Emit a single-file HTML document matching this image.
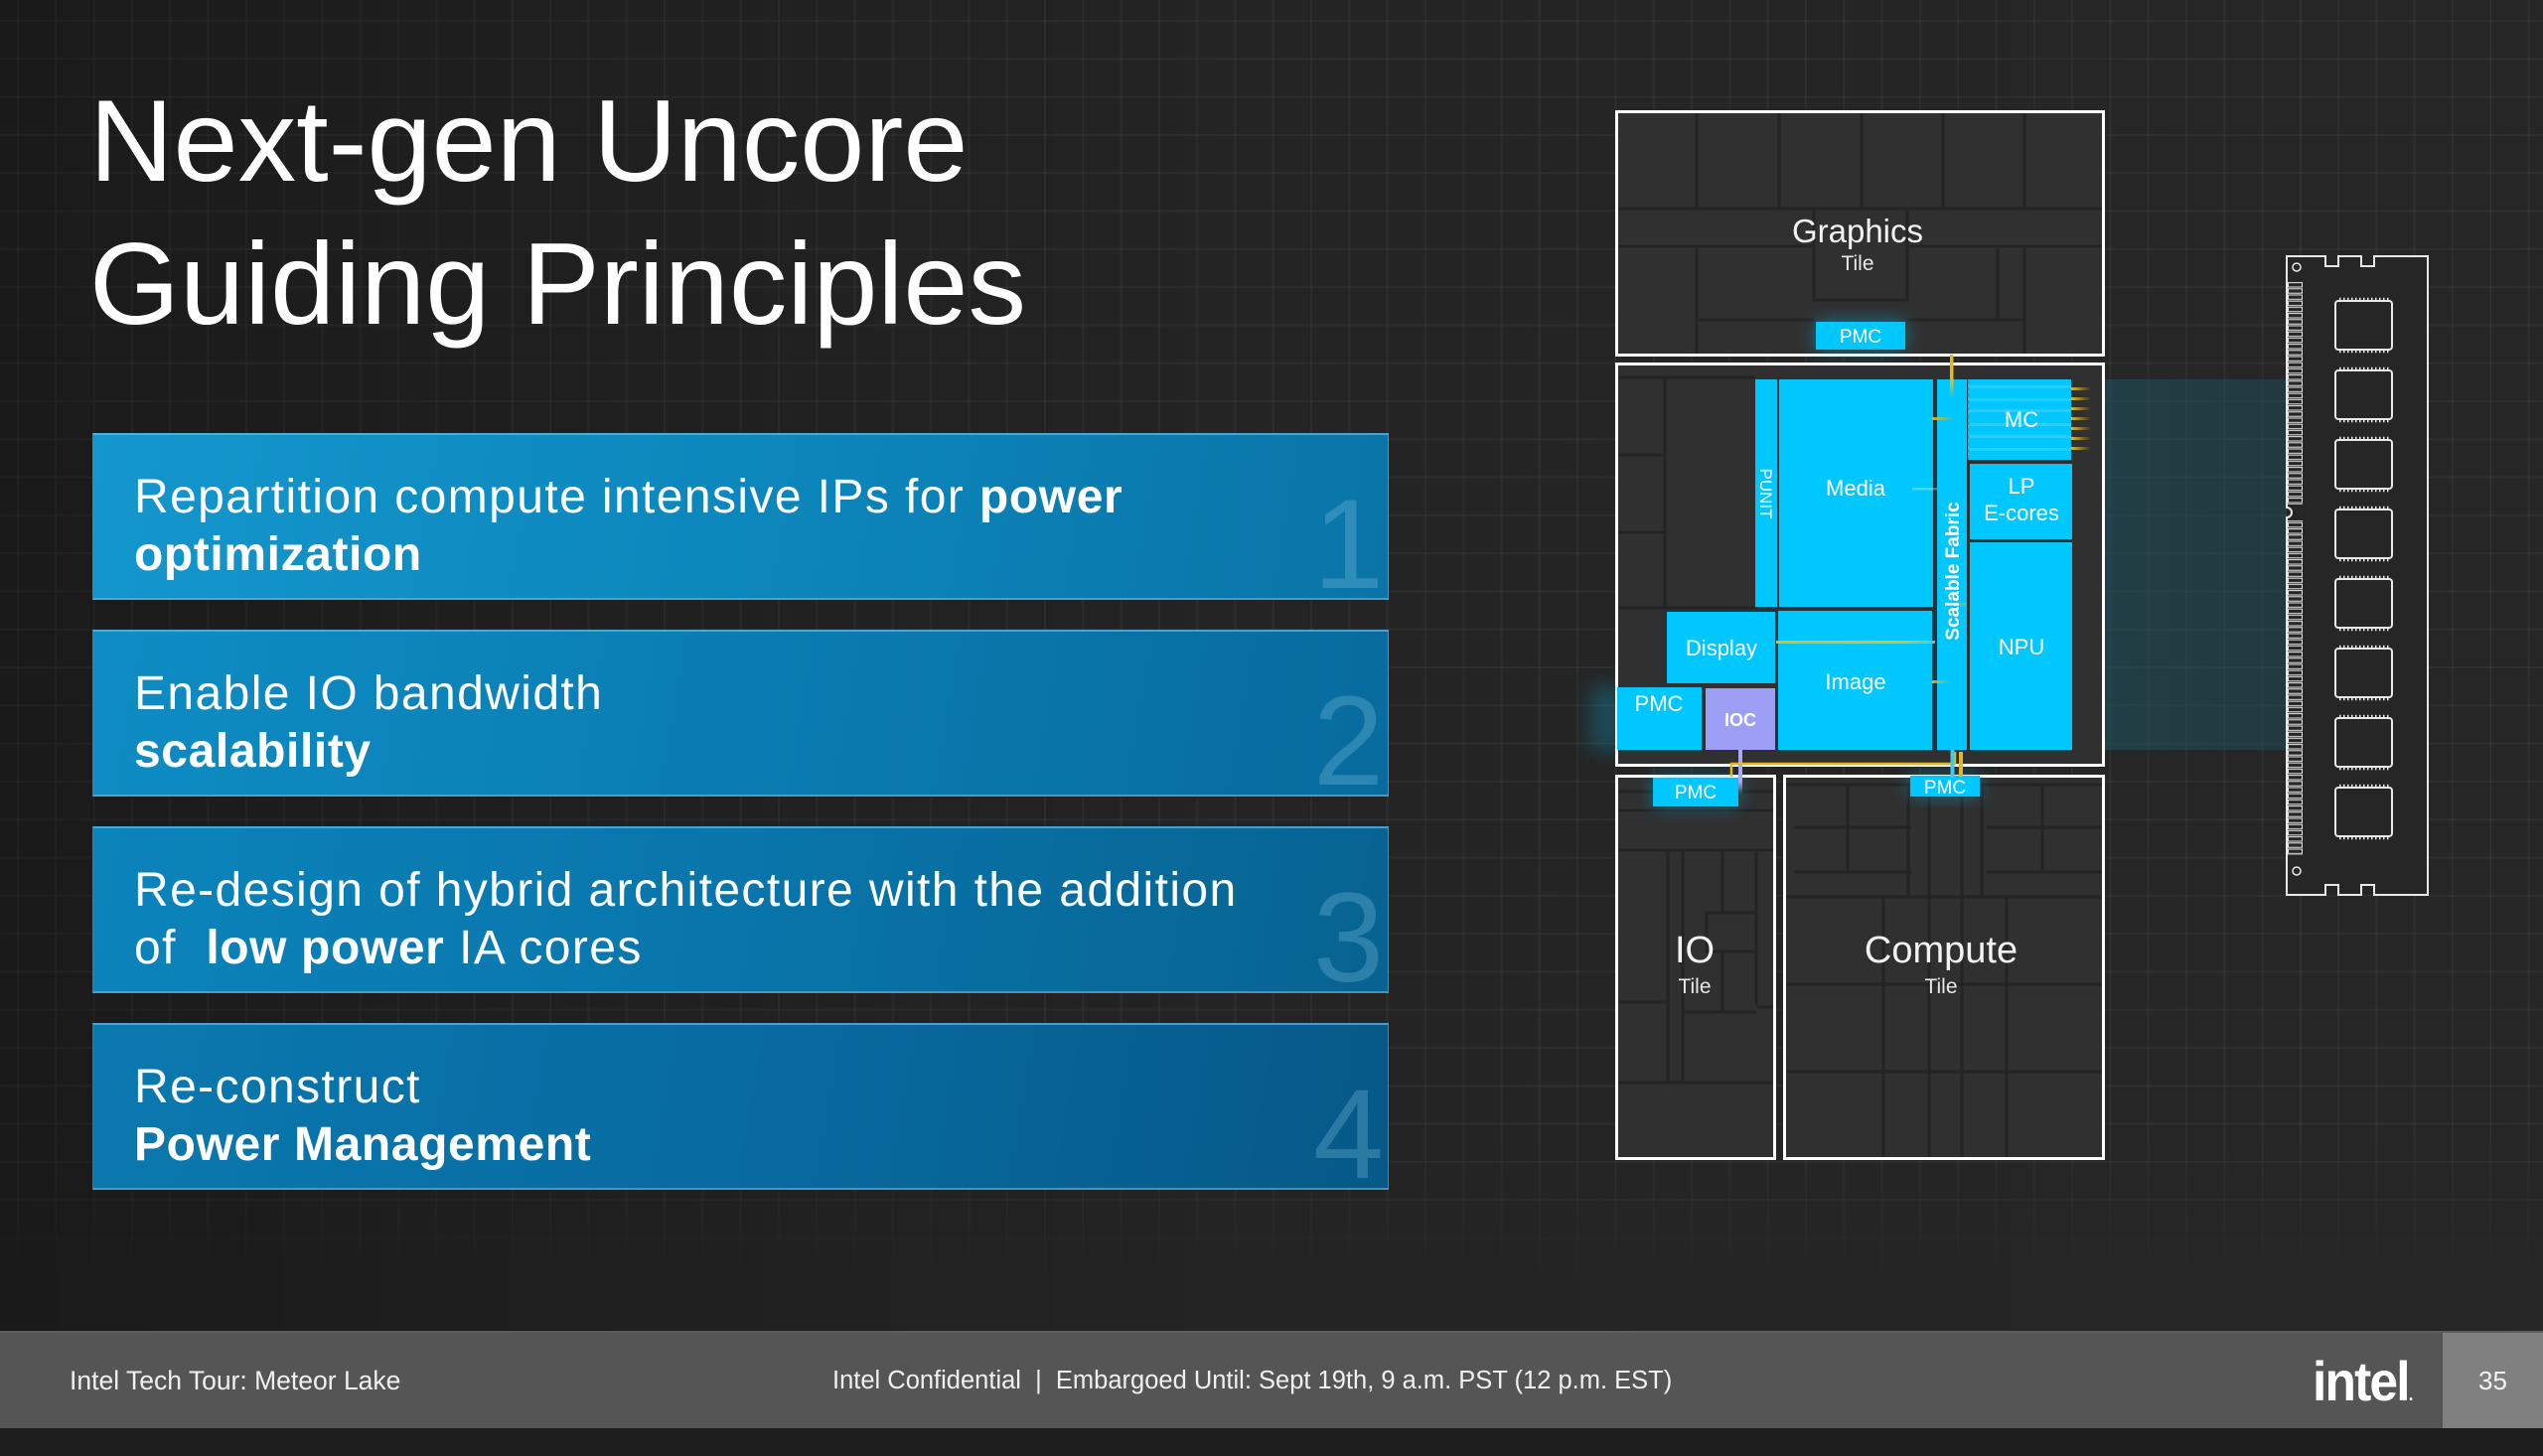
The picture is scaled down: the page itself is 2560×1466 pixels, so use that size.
<!DOCTYPE html>
<html>
<head>
<meta charset="utf-8">
<style>
  html,body{margin:0;padding:0;}
  body{width:2560px;height:1466px;overflow:hidden;background:#232323;font-family:"Liberation Sans",Arial,sans-serif;}
  #page{position:relative;width:2560px;height:1466px;overflow:hidden;background:#242424;}
  .grid{position:absolute;left:0;top:0;width:2560px;height:1300px;
    background-image:linear-gradient(to right, rgba(255,255,255,0.045) 2px, transparent 2px),
                     linear-gradient(to bottom, rgba(255,255,255,0.045) 2px, transparent 2px);
    background-size:38.3px 38.3px;background-position:17px 20px;
    -webkit-mask-image:linear-gradient(to bottom, #000 0%, #000 88%, transparent 100%);
    mask-image:linear-gradient(to bottom, #000 0%, #000 88%, transparent 100%);}
  .vign{position:absolute;left:0;top:0;width:2560px;height:1340px;
    background:linear-gradient(90deg, rgba(0,0,0,0.28) 0%, rgba(0,0,0,0.12) 25%, rgba(0,0,0,0) 50%, rgba(255,255,255,0.01) 100%);}
  .title{position:absolute;left:90px;top:70px;font-size:117px;line-height:144px;color:#fff;white-space:nowrap;}
  .box{position:absolute;left:93px;width:1305px;height:168px;box-sizing:border-box;
    border-top:2px solid rgba(110,190,230,0.65);border-bottom:2px solid rgba(110,190,230,0.55);
    border-left:1px solid rgba(110,190,230,0.35);border-right:1px solid rgba(110,190,230,0.35);overflow:hidden;}
  .b1{top:436px;background:linear-gradient(100deg,#1497cd 0%,#0c87bc 50%,#0a74a7 100%);}
  .b2{top:634px;background:linear-gradient(100deg,#0e8dc4 0%,#0a7db2 50%,#086b9d 100%);}
  .b3{top:832px;background:linear-gradient(100deg,#0b84bb 0%,#0975aa 50%,#076391 100%);}
  .b4{top:1030px;background:linear-gradient(100deg,#0a79af 0%,#086ba1 50%,#065988 100%);}
  .txt{position:absolute;left:41px;top:34px;font-size:48px;line-height:58px;color:#fff;letter-spacing:1.4px;white-space:nowrap;}
  .txt b{font-weight:bold;letter-spacing:0.6px;}
  .num{position:absolute;right:4px;top:47px;font-size:128px;line-height:128px;color:rgba(140,205,235,0.28);}
  .footer{position:absolute;left:0;top:1340px;width:2560px;height:98px;background:#555555;border-top:2px solid #5e5e5e;box-sizing:border-box;}
  .ftxt{position:absolute;top:33px;line-height:30px;color:#f0f0f0;white-space:nowrap;}
  .pg{position:absolute;left:2459px;top:0;width:101px;height:96px;background:#808080;color:#f4f4f4;font-size:26px;line-height:96px;text-align:center;}
  .logo{position:absolute;left:2328px;top:16px;font-size:56px;font-weight:bold;color:#fff;letter-spacing:-2px;line-height:66px;transform:scaleX(0.92);transform-origin:left center;}
  .below{position:absolute;left:0;top:1438px;width:2560px;height:28px;background:#1e1e1e;}
</style>
</head>
<body>
<div id="page">
  <div class="grid"></div>
  <div class="vign"></div>

  <div class="title">Next-gen Uncore<br>Guiding Principles</div>

  <div class="box b1"><div class="txt">Repartition compute intensive IPs for <b>power</b><br><b>optimization</b></div><div class="num">1</div></div>
  <div class="box b2"><div class="txt">Enable IO bandwidth<br><b>scalability</b></div><div class="num">2</div></div>
  <div class="box b3"><div class="txt">Re-design of hybrid architecture with the addition<br>of&nbsp; <b>low power</b> IA cores</div><div class="num">3</div></div>
  <div class="box b4"><div class="txt">Re-construct<br><b>Power Management</b></div><div class="num">4</div></div>

  <svg width="2560" height="1466" viewBox="0 0 2560 1466" style="position:absolute;left:0;top:0;" xmlns="http://www.w3.org/2000/svg">
    <defs>
      <filter id="glow" x="-50%" y="-50%" width="200%" height="200%"><feGaussianBlur stdDeviation="9"/></filter>
      <linearGradient id="goldR" x1="0" x2="1" y1="0" y2="0">
        <stop offset="0" stop-color="#e8b71f"/><stop offset="1" stop-color="#e8b71f" stop-opacity="0"/>
      </linearGradient>
      <linearGradient id="goldCyan" x1="0" x2="1" y1="0" y2="0">
        <stop offset="0" stop-color="#e8b71f"/><stop offset="0.8" stop-color="#d8bd3a"/><stop offset="1" stop-color="#49c6e8"/>
      </linearGradient>
      <linearGradient id="goldDown" x1="0" x2="0" y1="0" y2="1">
        <stop offset="0" stop-color="#e8b71f"/><stop offset="0.6" stop-color="#e8b71f"/><stop offset="1" stop-color="#e8b71f" stop-opacity="0"/>
      </linearGradient>
      <linearGradient id="lavDown" x1="0" x2="0" y1="0" y2="1">
        <stop offset="0" stop-color="#a9abf7"/><stop offset="0.7" stop-color="#a9abf7"/><stop offset="1" stop-color="#a9abf7" stop-opacity="0"/>
      </linearGradient>
      <linearGradient id="band" x1="0" x2="1" y1="0" y2="0">
        <stop offset="0" stop-color="#1d5563" stop-opacity="0.55"/><stop offset="1" stop-color="#1d5563" stop-opacity="0.4"/>
      </linearGradient>
      <pattern id="pins" patternUnits="userSpaceOnUse" x="2303" y="284" width="16" height="6.2">
        <rect x="0.5" y="0.6" width="14" height="4.4" fill="none" stroke="#e8e8e8" stroke-width="1"/>
      </pattern>
    </defs>

    <!-- teal band to memory -->
    <rect x="2086" y="382" width="216" height="373" fill="url(#band)"/>
    <!-- left glow near SoC PMC -->
    <rect x="1600" y="690" width="40" height="66" fill="#00c7fd" opacity="0.22" filter="url(#glow)"/>

    <!-- ================= GRAPHICS TILE ================= -->
    <rect x="1627.5" y="112.5" width="490" height="245" fill="#303030" stroke="#ffffff" stroke-width="3"/>
    <g stroke="#242424" stroke-width="3" fill="none">
      <path d="M1708,114 V210 M1791,114 V210 M1874,114 V210 M1956,114 V210 M2038,114 V210
               M1629,210 H2116 M1629,248 H1826 M1920,248 H2116
               M1708,248 V356 M2011,248 V322 M2038,248 V356 M1708,322 H1826 M1920,322 H2038"/>
      <rect x="1826" y="210" width="94" height="92"/>
    </g>
    <rect x="1828" y="324" width="90" height="28" fill="#00c7fd" opacity="0.45" filter="url(#glow)"/>
    <rect x="1828" y="324" width="90" height="28" fill="#00c7fd"/>
    <text x="1873" y="345" font-size="19" fill="#fff" text-anchor="middle" font-family="Liberation Sans, sans-serif">PMC</text>
    <text x="1870" y="244" font-size="33" fill="#f2f2f2" text-anchor="middle" font-family="Liberation Sans, sans-serif">Graphics</text>
    <text x="1870" y="272" font-size="21" fill="#e8e8e8" text-anchor="middle" font-family="Liberation Sans, sans-serif">Tile</text>

    <!-- ================= SOC TILE ================= -->
    <rect x="1627.5" y="366.5" width="490" height="404" fill="#303030" stroke="#ffffff" stroke-width="3"/>
    <g stroke="#242424" stroke-width="3" fill="none">
      <path d="M1629,380 H1767 M1676,380 V612 M1629,458 H1676 M1629,536 H1676 M1629,612 H1767"/>
    </g>
    <!-- blocks -->
    <g fill="#00c7fd">
      <rect x="1767" y="382" width="22" height="229"/>
      <rect x="1791" y="382" width="155" height="229"/>
      <rect x="1950" y="382" width="30" height="373"/>
      <rect x="1981" y="382" width="104" height="81"/>
      <rect x="1983" y="467" width="103" height="76"/>
      <rect x="1983" y="546" width="103" height="209"/>
      <rect x="1678" y="616" width="109" height="72"/>
      <rect x="1790" y="615" width="155" height="140"/>
      <rect x="1628" y="692" width="85" height="63"/>
    </g>
    <rect x="1717" y="693" width="70" height="62" fill="#9d9ff7"/>
    <!-- MC stripes -->
    <g fill="#ffffff" opacity="0.14">
      <rect x="1981" y="388" width="104" height="3"/>
      <rect x="1981" y="401" width="104" height="3"/>
      <rect x="1981" y="412" width="104" height="3"/>
      <rect x="1981" y="426" width="104" height="3"/>
      <rect x="1981" y="438" width="104" height="3"/>
      <rect x="1981" y="451" width="104" height="3"/>
    </g>
    <line x1="1981.5" y1="382" x2="1981.5" y2="463" stroke="#0aa6d6" stroke-width="1.5" stroke-dasharray="4 3"/>
    <!-- MC gold ticks -->
    <g fill="url(#goldR)">
      <rect x="2085" y="390" width="20" height="3"/>
      <rect x="2085" y="400" width="20" height="3"/>
      <rect x="2085" y="410" width="20" height="3"/>
      <rect x="2085" y="420" width="20" height="3"/>
      <rect x="2085" y="430" width="20" height="3"/>
      <rect x="2085" y="440" width="20" height="3"/>
      <rect x="2085" y="450" width="20" height="3"/>
    </g>
    <!-- connectors -->
    <rect x="1963" y="357" width="3.5" height="45" fill="url(#goldDown)"/>
    <rect x="1945" y="420" width="23" height="3" fill="url(#goldR)"/>
    <rect x="1925" y="491" width="25" height="2.5" fill="#ffffff" opacity="0.3"/>
    <rect x="1966" y="607" width="16" height="3" fill="url(#goldR)"/>
    <rect x="1788" y="645" width="160" height="3" fill="url(#goldCyan)"/>
    <rect x="1945" y="685" width="18" height="3" fill="url(#goldR)"/>

    <!-- labels SoC -->
    <g font-family="Liberation Sans, sans-serif" fill="#ffffff" text-anchor="middle" font-size="22">
      <text x="1868" y="499">Media</text>
      <text x="2035" y="430">MC</text>
      <text x="2035" y="497">LP</text>
      <text x="2035" y="524">E-cores</text>
      <text x="2035" y="659">NPU</text>
      <text x="1733" y="660">Display</text>
      <text x="1868" y="694">Image</text>
      <text x="1670" y="716">PMC</text>
      <text x="1752" y="731" font-size="18" font-weight="bold">IOC</text>
      <text transform="translate(1772,497) rotate(90)" font-size="17" text-anchor="middle">PUNIT</text>
      <text transform="translate(1972,575) rotate(-90)" font-size="19" font-weight="bold" text-anchor="middle">Scalable Fabric</text>
    </g>

    <!-- ================= IO TILE ================= -->
    <rect x="1627.5" y="781.5" width="159" height="385" fill="#303030" stroke="#ffffff" stroke-width="3"/>
    <g stroke="#242424" stroke-width="3" fill="none">
      <path d="M1629,797 H1785 M1629,816 H1785 M1629,856 H1785
               M1679,856 V1090 M1694,856 V1090 M1734,856 V919 M1734,958 V1019 M1768,856 V1012
               M1629,1009 H1679 M1694,1019 H1768 M1768,1014 H1785 M1629,1090 H1785"/>
      <rect x="1718" y="919" width="50" height="39"/>
    </g>

    <!-- ================= COMPUTE TILE ================= -->
    <rect x="1796.5" y="781.5" width="321" height="385" fill="#303030" stroke="#ffffff" stroke-width="3"/>
    <g stroke="#242424" stroke-width="3" fill="none">
      <path d="M1798,790 H2116
               M1806,833 H1924 M2000,833 H2116 M1806,878 H1924 M2000,878 H2116 M1798,903 H2116
               M1860,790 V878 M1921,790 V903 M1942,790 V1165 M1975,790 V1165 M1995,790 V903 M2056,790 V878
               M1896,903 V1165 M2020,903 V1165
               M1798,991 H2116 M1798,1079 H2116"/>
    </g>

    <!-- bottom PMCs -->
    <rect x="1664" y="783" width="86" height="29" fill="#00c7fd" opacity="0.4" filter="url(#glow)"/>
    <rect x="1664" y="783" width="86" height="29" fill="#00c7fd"/>
    <rect x="1923" y="781" width="70" height="21" fill="#00c7fd" opacity="0.4" filter="url(#glow)"/>
    <rect x="1923" y="781" width="70" height="21" fill="#00c7fd"/>
    <g font-family="Liberation Sans, sans-serif" fill="#ffffff" text-anchor="middle" font-size="19">
      <text x="1707" y="804">PMC</text>
      <text x="1958" y="799">PMC</text>
    </g>

    <!-- inter-tile connectors -->
    <rect x="1750" y="755" width="4" height="45" fill="url(#lavDown)"/>
    <path d="M1743,782 V769 H1968 V757" fill="none" stroke="#e2b52a" stroke-width="2.5"/>
    <rect x="1963.5" y="755" width="4" height="28" fill="#49c6e8"/>
    <rect x="1972" y="757" width="4" height="25" fill="#e2b52a"/>

    <g font-family="Liberation Sans, sans-serif" fill="#f2f2f2" text-anchor="middle">
      <text x="1706" y="969" font-size="38">IO</text>
      <text x="1706" y="1000" font-size="21" fill="#e8e8e8">Tile</text>
      <text x="1954" y="969" font-size="38">Compute</text>
      <text x="1954" y="1000" font-size="21" fill="#e8e8e8">Tile</text>
    </g>

    <!-- ================= DIMM ================= -->
    <path d="M2302,258 H2341 V268 H2354 V258 H2377 V268 H2390 V258 H2444 V901 H2390 V891 H2377 V901 H2354 V891 H2341 V901 H2302 V521 A5,5 0 0 0 2302,511 Z"
          fill="#262626" stroke="#e8e8e8" stroke-width="2"/>
    <circle cx="2312" cy="269" r="4" fill="none" stroke="#e8e8e8" stroke-width="1.5"/>
    <circle cx="2312" cy="877" r="4" fill="none" stroke="#e8e8e8" stroke-width="1.5"/>
    <rect x="2303" y="284" width="16" height="224" fill="url(#pins)"/>
    <rect x="2303" y="524" width="16" height="337" fill="url(#pins)"/>
    <g fill="none" stroke="#e8e8e8" stroke-width="2">
      <rect x="2351" y="303" width="57" height="49" rx="3"/>
      <rect x="2351" y="373" width="57" height="49" rx="3"/>
      <rect x="2351" y="443" width="57" height="49" rx="3"/>
      <rect x="2351" y="513" width="57" height="49" rx="3"/>
      <rect x="2351" y="583" width="57" height="49" rx="3"/>
      <rect x="2351" y="653" width="57" height="49" rx="3"/>
      <rect x="2351" y="723" width="57" height="49" rx="3"/>
      <rect x="2351" y="793" width="57" height="49" rx="3"/>
    </g>
    <g stroke="#e8e8e8" stroke-width="2.5" stroke-dasharray="1.5 2.5">
      <path d="M2355,301 H2405 M2355,354 H2405 M2355,371 H2405 M2355,424 H2405 M2355,441 H2405 M2355,494 H2405
               M2355,511 H2405 M2355,564 H2405 M2355,581 H2405 M2355,634 H2405 M2355,651 H2405 M2355,704 H2405
               M2355,721 H2405 M2355,774 H2405 M2355,791 H2405 M2355,844 H2405"/>
    </g>
  </svg>

  <div class="footer">
    <div class="ftxt" style="left:70px;font-size:26.5px;">Intel Tech Tour: Meteor Lake</div>
    <div class="ftxt" style="left:838px;font-size:25.5px;">Intel Confidential&nbsp; |&nbsp; Embargoed Until: Sept 19th, 9 a.m. PST (12 p.m. EST)</div>
    <div class="logo">intel<span style="font-size:18px;letter-spacing:0;">.</span></div>
    <div class="pg">35</div>
  </div>
  <div class="below"></div>
</div>
</body>
</html>
